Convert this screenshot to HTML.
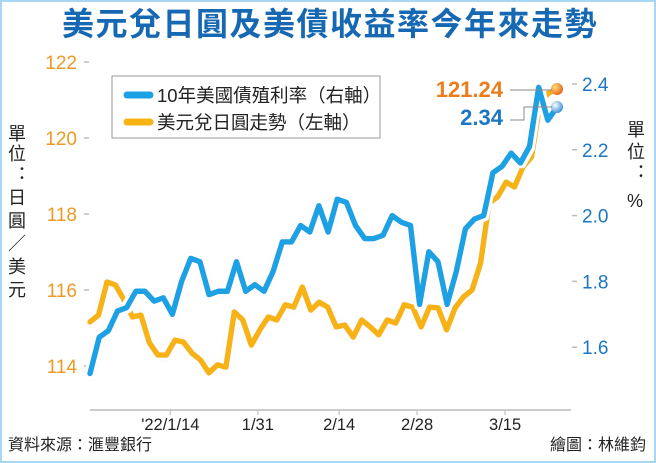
<!DOCTYPE html>
<html><head><meta charset="utf-8"><style>
html,body{margin:0;padding:0;background:#fff}
#wrap{position:relative;width:652px;height:459px;border:2px solid #a9d6f2;overflow:hidden;font-family:"Liberation Sans","Noto Sans CJK TC",sans-serif}
</style></head><body>
<div id="wrap">
<svg id="chart" width="656" height="463" style="position:absolute;left:-2px;top:-2px">
<defs><filter id="halo" x="-5%" y="-5%" width="110%" height="110%"><feMorphology operator="dilate" radius="2.5" in="SourceAlpha" result="d"/><feFlood flood-color="#fff"/><feComposite in2="d" operator="in" result="w"/><feGaussianBlur in="SourceAlpha" stdDeviation="3" result="b"/><feFlood flood-color="#000" flood-opacity="0.12"/><feComposite in2="b" operator="in" result="s"/><feMerge><feMergeNode in="s"/><feMergeNode in="w"/><feMergeNode in="SourceGraphic"/></feMerge></filter>
<radialGradient id="go" cx="35%" cy="35%" r="70%"><stop offset="0" stop-color="#ffe27a"/><stop offset="1" stop-color="#e8601a"/></radialGradient>
<radialGradient id="gb" cx="35%" cy="35%" r="70%"><stop offset="0" stop-color="#ffffff"/><stop offset="1" stop-color="#3b8fd6"/></radialGradient></defs>
<text x="330" y="35" text-anchor="middle" font-size="32" font-weight="bold" fill="#1668b2" letter-spacing="1.5">美元兌日圓及美債收益率今年來走勢</text>
<g id="axes"></g>
<g id="series"></g>
<g>
<rect x="112" y="76" width="268" height="62" fill="#fff" stroke="#999" stroke-width="1"/>
<line x1="127" y1="95" x2="150" y2="95" stroke="#1aa1e4" stroke-width="7" stroke-linecap="round"/>
<text x="157" y="102" font-size="18.5" fill="#222">10年美國債殖利率（右軸）</text>
<line x1="127" y1="122" x2="150" y2="122" stroke="#f7b313" stroke-width="7" stroke-linecap="round"/>
<text x="157" y="129" font-size="18.5" fill="#222">美元兌日圓走勢（左軸）</text>
</g>
<text font-size="18" fill="#222"><tspan x="8" y="140">單</tspan><tspan x="8" y="160">位</tspan><tspan x="13" y="180">：</tspan><tspan x="8" y="204">日</tspan><tspan x="8" y="227">圓</tspan><tspan x="8" y="250">／</tspan><tspan x="8" y="273">美</tspan><tspan x="8" y="296">元</tspan></text>
<text font-size="18" fill="#222"><tspan x="627" y="136">單</tspan><tspan x="627" y="158">位</tspan><tspan x="632" y="178">：</tspan><tspan x="627" y="207">%</tspan></text>
<text x="503" y="97" text-anchor="end" font-size="22" font-weight="bold" fill="#ec7d1c">121.24</text>
<text x="503" y="125" text-anchor="end" font-size="22" font-weight="bold" fill="#1b76c4">2.34</text>
<polyline points="510,90 552,90" fill="none" stroke="#888" stroke-width="1"/>
<polyline points="510,120 524,120 524,107 552,107" fill="none" stroke="#888" stroke-width="1"/>
<text x="8" y="450" font-size="16" fill="#222">資料來源：滙豐銀行</text>
<text x="646" y="450" text-anchor="end" font-size="16" fill="#222">繪圖：林維鈞</text>
</svg>
</div>
<script>
const leftTicks=[114,116,118,120,122];
const rightTicks=[1.6,1.8,2.0,2.2,2.4];
const dateLabels=["'22/1/14","1/31","2/14","2/28","3/15"];
const datePos=[0.167,0.349,0.518,0.68,0.863];
const yieldVals=[1.52,1.63,1.65,1.71,1.72,1.77,1.77,1.74,1.75,1.70,1.80,1.87,1.86,1.76,1.77,1.77,1.86,1.77,1.79,1.77,1.83,1.92,1.92,1.97,1.95,2.03,1.95,2.05,2.04,1.97,1.93,1.93,1.94,2.00,1.98,1.97,1.73,1.89,1.86,1.73,1.83,1.96,1.99,2.00,2.13,2.15,2.19,2.16,2.21,2.39,2.29,2.33];
const jpyVals=[115.16,115.34,116.21,116.13,115.74,115.29,115.34,114.61,114.29,114.29,114.68,114.63,114.34,114.16,113.82,114.03,113.97,115.42,115.21,114.55,114.95,115.29,115.21,115.61,115.55,116.08,115.47,115.68,115.55,115.03,115.08,114.76,115.21,115.03,114.82,115.21,115.13,115.61,115.55,115.03,115.55,115.53,114.95,115.53,115.82,116.00,116.71,118.29,118.45,118.84,118.71,119.24,119.50,120.92,121.18,121.29];
const NS='http://www.w3.org/2000/svg';
const X0=90,X1=557;
const yL=v=>62+(122-v)*38;
const yR=v=>84+(2.4-v)*329;
const xi=(i,n)=>X0+(X1-X0)*i/(n-1);
function mk(tag,attrs,parent){const e=document.createElementNS(NS,tag);for(const k in attrs)e.setAttribute(k,attrs[k]);parent.appendChild(e);return e;}
const ax=document.getElementById('axes'),sg=document.getElementById('series');
leftTicks.forEach(v=>{const y=yL(v);
 const t=mk('line',{x1:84,x2:89,y1:y,y2:y,stroke:'#bbb','stroke-width':1.5},ax);
 
 
 const l=mk('text',{x:77,y:y+7,'text-anchor':'end','font-size':19,fill:'#eb9a24'},ax);l.textContent=v;
 
 });
rightTicks.forEach(v=>{const y=yR(v);
 const t=mk('line',{x1:572,x2:577,y1:y,y2:y,stroke:'#bbb','stroke-width':1.5},ax);
 
 
 const l=mk('text',{x:582,y:y+7,'font-size':19,fill:'#1b76c4'},ax);l.textContent=v.toFixed(1);
 
 });
const xl=mk('line',{x1:90,x2:571,y1:410,y2:410,stroke:'#ccc','stroke-width':2},ax);


dateLabels.forEach((d,i)=>{const x=90+481*datePos[i];
 mk('line',{x1:x,x2:x,y1:410,y2:415,stroke:'#ccc','stroke-width':1.5},ax);
 const l=mk('text',{x:x,y:430,'text-anchor':'middle','font-size':16.5,fill:'#222'},ax);l.textContent=d;
 
 });
function line(vals,yf,color,name){const pts=vals.map((v,i)=>xi(i,vals.length).toFixed(1)+','+yf(v).toFixed(1)).join(' ');
 const p=mk('polyline',{points:pts,fill:'none',stroke:color,'stroke-width':5.5,'stroke-linejoin':'round','stroke-linecap':'round',filter:'url(#halo)'},sg);
 
 }
line(jpyVals,yL,'#f7b313','jpy-line');
line(yieldVals,yR,'#1aa1e4','yield-line');
const eo=mk('circle',{cx:X1,cy:yL(jpyVals[jpyVals.length-1]),r:6,fill:'url(#go)'},sg);


const eb=mk('circle',{cx:X1,cy:yR(yieldVals[yieldVals.length-1]),r:6,fill:'url(#gb)'},sg);


</script>
</body></html>
